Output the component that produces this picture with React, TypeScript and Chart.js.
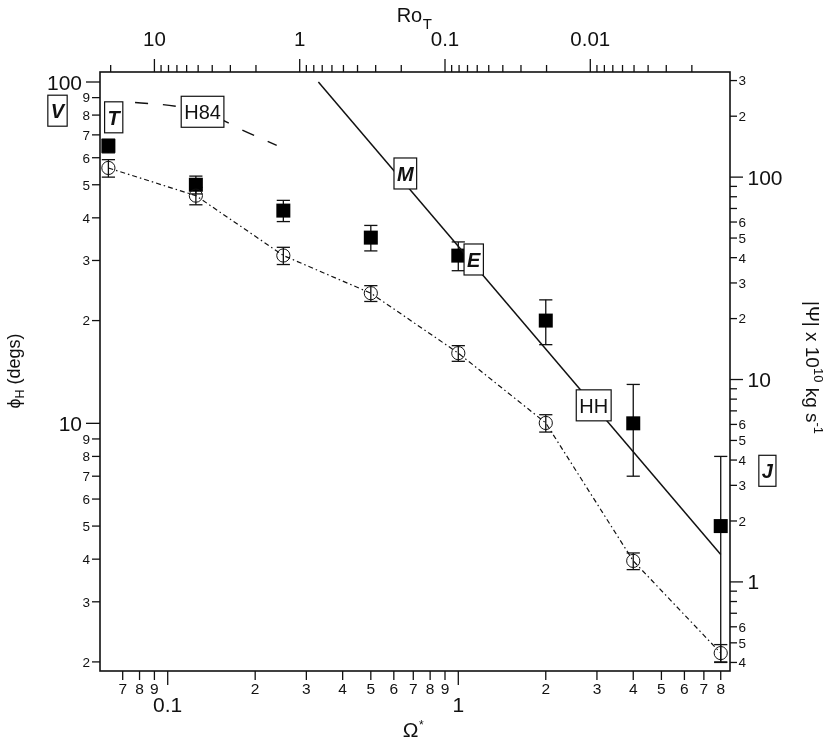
import React, { useEffect, useRef } from 'react';
import { Chart, registerables } from 'chart.js';

Chart.register(...registerables);

// ---------------- data ----------------
const OMEGA = [0.0625, 0.125, 0.25, 0.5, 1, 2, 4, 8];
const PHI_H = [65, 50, 42, 35, 31, 20, 10, 5];
const PHI_H_ERR = [3, 3, 3, 3, 3, 3, 3, 3];
const PSI = [111, 81, 41, 26.7, 13.5, 6.1, 1.27, 0.445];
const PSI_ERR = [11, 8, 4, 2.4, 1.2, 0.6, 0.12, 0.045];

const HH_OMEGA = [0.33, 8];
const HH_PHI = [100, 4.125];
const H84_OMEGA = [0.0772, 0.1074, 0.14, 0.1773, 0.2372];
const H84_PHI = [87.1, 84.8, 80.4, 72.8, 65.2];

const LABEL_TEXT = ['V', 'T', 'H84', 'M', 'E', 'HH', 'J'];
const LABEL_OMEGA = [0.04176, 0.06519, 0.1318, 0.6572, 1.13, 2.924, 11.58];
const LABEL_PHI = [82.4, 78.8, 81.8, 53.95, 30.2, 11.29, 7.26];
const LABEL_BOLD = [true, true, false, true, true, false, true];

// axis ranges
const X_RANGE = [0.05848, 8.61];
const PHI_RANGE = [1.881, 106.98];
const PSI_RANGE = [0.3629, 330.7];
const RO_CONST = 0.081; // Ro_T = RO_CONST / Omega*^2

// ticks
const X_MAJOR_TICKS = [0.1, 1];
const X_MAJOR_LABELS = ['0.1', '1'];
const X_MINOR_TICKS = [0.07, 0.08, 0.09, 0.2, 0.3, 0.4, 0.5, 0.6, 0.7, 0.8, 0.9, 2, 3, 4, 5, 6, 7, 8];
const X_MINOR_LABELS = ['7', '8', '9', '2', '3', '4', '5', '6', '7', '8', '9', '2', '3', '4', '5', '6', '7', '8'];

const PHI_MAJOR_TICKS = [10, 100];
const PHI_MAJOR_LABELS = ['10', '100'];
const PHI_MINOR_TICKS = [2, 3, 4, 5, 6, 7, 8, 9, 20, 30, 40, 50, 60, 70, 80, 90];
const PHI_MINOR_LABELS = ['2', '3', '4', '5', '6', '7', '8', '9', '2', '3', '4', '5', '6', '7', '8', '9'];

const PSI_MAJOR_TICKS = [1, 10, 100];
const PSI_MAJOR_LABELS = ['1', '10', '100'];
const PSI_MINOR_TICKS = [0.4, 0.5, 0.6, 0.7, 0.8, 0.9, 2, 3, 4, 5, 6, 7, 8, 9, 20, 30, 40, 50, 60, 70, 80, 90, 200, 300];
const PSI_MINOR_LABELS = ['4', '5', '6', '', '', '', '2', '3', '4', '5', '6', '', '', '', '2', '3', '4', '5', '6', '', '', '', '2', '3'];

const RO_MAJOR_TICKS = [10, 1, 0.1, 0.01];
const RO_MAJOR_LABELS = ['10', '1', '0.1', '0.01'];
const RO_MINOR_TICKS = [20, 9, 8, 7, 6, 5, 4, 3, 2, 0.9, 0.8, 0.7, 0.6, 0.5, 0.4, 0.3, 0.2,
  0.09, 0.08, 0.07, 0.06, 0.05, 0.04, 0.03, 0.02, 0.009, 0.008, 0.007, 0.006, 0.005, 0.004, 0.003, 0.002];

const FONT = '"Liberation Sans", Arial, Helvetica, sans-serif';
const INK = '#111';

function setFont(ctx: CanvasRenderingContext2D, size: number, extra = '') {
  ctx.font = `${extra} ${size}px ${FONT}`.trim();
}

function line(ctx: CanvasRenderingContext2D, x1: number, y1: number, x2: number, y2: number) {
  ctx.beginPath();
  ctx.moveTo(x1, y1);
  ctx.lineTo(x2, y2);
  ctx.stroke();
}

const errorBarPlugin = {
  id: 'errorBars',
  beforeDatasetsDraw(chart: any) {
    const { ctx, chartArea } = chart;
    const sx = chart.scales.x, sy = chart.scales.y, sy2 = chart.scales.y2;
    ctx.save();
    ctx.beginPath();
    ctx.rect(chartArea.left, chartArea.top - 2, chartArea.right - chartArea.left, chartArea.bottom - chartArea.top + 4);
    ctx.clip();
    ctx.strokeStyle = INK;
    ctx.lineWidth = 1.3;
    const cap = 6.6;
    OMEGA.forEach((om, i) => {
      const px = sx.getPixelForValue(om);
      // phi_H
      const a = sy.getPixelForValue(PHI_H[i] + PHI_H_ERR[i]);
      const b = sy.getPixelForValue(PHI_H[i] - PHI_H_ERR[i]);
      line(ctx, px, a, px, b);
      line(ctx, px - cap, a, px + cap, a);
      line(ctx, px - cap, b, px + cap, b);
      // psi
      const c = sy2.getPixelForValue(PSI[i] + PSI_ERR[i]);
      const d = sy2.getPixelForValue(PSI[i] - PSI_ERR[i]);
      line(ctx, px, c, px, d);
      line(ctx, px - cap, c, px + cap, c);
      line(ctx, px - cap, d, px + cap, d);
    });
    ctx.restore();
  },
};

const axesPlugin = {
  id: 'customAxes',
  afterDatasetsDraw(chart: any) {
    const { ctx, chartArea } = chart;
    const { left, top, right, bottom } = chartArea;
    const sx = chart.scales.x, sy = chart.scales.y, sy2 = chart.scales.y2, sx2 = chart.scales.x2;
    ctx.save();
    ctx.strokeStyle = INK;
    ctx.fillStyle = INK;
    ctx.textBaseline = 'alphabetic';

    // annotation boxes
    LABEL_TEXT.forEach((t, i) => {
      const cx = sx.getPixelForValue(LABEL_OMEGA[i]);
      const cy = sy.getPixelForValue(LABEL_PHI[i]);
      setFont(ctx, 20, LABEL_BOLD[i] ? 'italic bold' : '');
      const w = ctx.measureText(t).width + 6;
      const h = 31;
      ctx.fillStyle = '#fff';
      ctx.fillRect(cx - w / 2, cy - h / 2, w, h);
      ctx.lineWidth = 1.2;
      ctx.strokeRect(cx - w / 2, cy - h / 2, w, h);
      ctx.fillStyle = INK;
      ctx.textAlign = 'center';
      ctx.fillText(t, cx, cy + 0.36 * 20);
    });

    // frame
    ctx.lineWidth = 1.6;
    ctx.strokeRect(left, top, right - left, bottom - top);
    ctx.lineWidth = 1.3;

    // bottom axis
    ctx.textAlign = 'center';
    X_MINOR_TICKS.forEach((v, i) => {
      const px = sx.getPixelForValue(v);
      line(ctx, px, bottom, px, bottom + 9);
      setFont(ctx, 15.5);
      ctx.fillText(X_MINOR_LABELS[i], px, bottom + 22.5);
    });
    X_MAJOR_TICKS.forEach((v, i) => {
      const px = sx.getPixelForValue(v);
      line(ctx, px, bottom, px, bottom + 14);
      setFont(ctx, 21);
      ctx.fillText(X_MAJOR_LABELS[i], px, bottom + 41);
    });

    // top axis (Ro_T)
    RO_MINOR_TICKS.forEach((v) => {
      const px = sx2.getPixelForValue(v);
      if (px < left - 0.5 || px > right + 0.5) return;
      line(ctx, px, top, px, top - 7);
    });
    RO_MAJOR_TICKS.forEach((v, i) => {
      const px = sx2.getPixelForValue(v);
      line(ctx, px, top, px, top - 13);
      setFont(ctx, 20.5);
      ctx.fillText(RO_MAJOR_LABELS[i], px, top - 26.5);
    });

    // left axis
    ctx.textAlign = 'right';
    PHI_MINOR_TICKS.forEach((v, i) => {
      const py = sy.getPixelForValue(v);
      line(ctx, left, py, left - 8, py);
      setFont(ctx, 13.5);
      ctx.fillText(PHI_MINOR_LABELS[i], left - 10, py + 0.36 * 13.5);
    });
    PHI_MAJOR_TICKS.forEach((v, i) => {
      const py = sy.getPixelForValue(v);
      line(ctx, left, py, left - 14, py);
      setFont(ctx, 21);
      ctx.fillText(PHI_MAJOR_LABELS[i], left - 18, py + 0.36 * 21);
    });

    // right axis
    ctx.textAlign = 'left';
    PSI_MINOR_TICKS.forEach((v, i) => {
      const py = sy2.getPixelForValue(v);
      line(ctx, right, py, right + 7, py);
      setFont(ctx, 13.5);
      if (PSI_MINOR_LABELS[i]) ctx.fillText(PSI_MINOR_LABELS[i], right + 8.5, py + 0.36 * 13.5);
    });
    PSI_MAJOR_TICKS.forEach((v, i) => {
      const py = sy2.getPixelForValue(v);
      line(ctx, right, py, right + 13, py);
      setFont(ctx, 21);
      ctx.fillText(PSI_MAJOR_LABELS[i], right + 17.5, py + 0.36 * 21);
    });

    const cxMid = (left + right) / 2;

    // top title Ro_T
    setFont(ctx, 20);
    const wRo = ctx.measureText('Ro').width;
    setFont(ctx, 15);
    const wT = ctx.measureText('T').width;
    let x0 = cxMid - (wRo + wT) / 2 - 1;
    ctx.textAlign = 'left';
    setFont(ctx, 20);
    ctx.fillText('Ro', x0, 21.5);
    setFont(ctx, 15);
    ctx.fillText('T', x0 + wRo + 0.5, 29.3);

    // bottom title Omega*
    setFont(ctx, 21);
    const wOm = ctx.measureText('Ω').width;
    setFont(ctx, 12);
    const wAst = ctx.measureText('*').width;
    x0 = cxMid - (wOm + wAst) / 2 - 2;
    setFont(ctx, 21);
    ctx.fillText('Ω', x0, 736.5);
    setFont(ctx, 12);
    ctx.fillText('*', x0 + wOm + 0.5, 729);

    // left title: phi_H (degs)
    ctx.save();
    ctx.translate(19.5, 371);
    ctx.rotate(-Math.PI / 2);
    setFont(ctx, 18);
    const wPhi = ctx.measureText('ϕ').width;
    const wRest = ctx.measureText(' (degs)').width;
    setFont(ctx, 12.5);
    const wH = ctx.measureText('H').width;
    let t0 = -(wPhi + wH + wRest) / 2;
    setFont(ctx, 18);
    ctx.fillText('ϕ', t0, 0);
    setFont(ctx, 12.5);
    ctx.fillText('H', t0 + wPhi, 4);
    setFont(ctx, 18);
    ctx.fillText(' (degs)', t0 + wPhi + wH, 0);
    ctx.restore();

    // right title: |Psi| x 10^10 kg s^-1
    ctx.save();
    ctx.translate(806, 367.5);
    ctx.rotate(Math.PI / 2);
    const parts: [string, number, number][] = [
      ['|Ψ| x 10', 19, 0],
      ['10', 13, -8],
      [' kg s', 19, 0],
      ['-1', 13, -8],
    ];
    let total = 0;
    parts.forEach(([s, f]) => { setFont(ctx, f); total += ctx.measureText(s).width; });
    let p = -total / 2;
    parts.forEach(([s, f, dy]) => {
      setFont(ctx, f);
      ctx.fillText(s, p, dy);
      p += ctx.measureText(s).width;
    });
    ctx.restore();

    ctx.restore();
  },
};

export default function App() {
  const canvasRef = useRef<HTMLCanvasElement | null>(null);

  useEffect(() => {
    const canvas = canvasRef.current;
    if (!canvas) return;
    const chart = new Chart(canvas, {
      type: 'line',
      data: {
        datasets: [
          {
            label: 'H84',
            data: H84_OMEGA.map((x, i) => ({ x, y: H84_PHI[i] })),
            yAxisID: 'y',
            xAxisID: 'x',
            borderColor: INK,
            borderWidth: 1.4,
            borderDash: [13, 15],
            pointRadius: 0,
            tension: 0.4,
            fill: false,
          },
          {
            label: 'HH',
            data: HH_OMEGA.map((x, i) => ({ x, y: HH_PHI[i] })),
            yAxisID: 'y',
            xAxisID: 'x',
            borderColor: INK,
            borderWidth: 1.5,
            pointRadius: 0,
            fill: false,
          },
          {
            label: 'Psi',
            data: OMEGA.map((x, i) => ({ x, y: PSI[i] })),
            yAxisID: 'y2',
            xAxisID: 'x',
            borderColor: INK,
            borderWidth: 1.2,
            borderDash: [5, 3, 1.5, 3],
            pointStyle: 'circle',
            pointRadius: 6.6,
            pointBorderWidth: 1,
            pointBorderColor: INK,
            pointBackgroundColor: 'rgba(0,0,0,0)',
            fill: false,
          },
          {
            label: 'phiH',
            data: OMEGA.map((x, i) => ({ x, y: PHI_H[i] })),
            yAxisID: 'y',
            xAxisID: 'x',
            showLine: false,
            pointStyle: 'rect',
            pointRadius: 9.9,
            pointBorderWidth: 0,
            pointBackgroundColor: '#000',
            pointBorderColor: '#000',
          },
        ],
      },
      options: {
        animation: false,
        responsive: false,
        events: [],
        layout: { padding: { left: 100, top: 72, right: 100, bottom: 73 } },
        plugins: { legend: { display: false }, tooltip: { enabled: false } },
        scales: {
          x: { type: 'logarithmic', position: 'bottom', min: X_RANGE[0], max: X_RANGE[1], bounds: 'data', display: false },
          x2: {
            type: 'logarithmic', position: 'top', reverse: true, bounds: 'data', display: false,
            min: RO_CONST / (X_RANGE[1] * X_RANGE[1]),
            max: RO_CONST / (X_RANGE[0] * X_RANGE[0]),
          },
          y: { type: 'logarithmic', position: 'left', min: PHI_RANGE[0], max: PHI_RANGE[1], bounds: 'data', display: false },
          y2: { type: 'logarithmic', position: 'right', min: PSI_RANGE[0], max: PSI_RANGE[1], bounds: 'data', display: false },
        },
      },
      plugins: [errorBarPlugin, axesPlugin],
    } as any);
    return () => chart.destroy();
  }, []);

  return (
    <div style={{ position: 'fixed', left: 0, top: 0, width: 830, height: 744, background: '#fff' }}>
      <canvas ref={canvasRef} width={830} height={744} style={{ display: 'block', width: 830, height: 744 }} />
    </div>
  );
}
